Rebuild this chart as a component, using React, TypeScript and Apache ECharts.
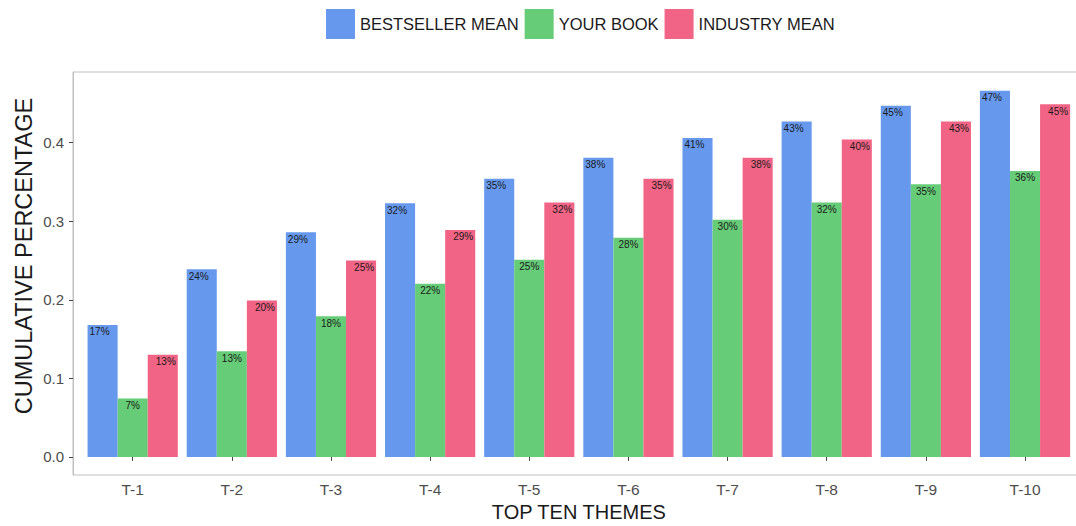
import React, { useEffect, useRef } from "react";
import * as echarts from "echarts";

const categories = ["T-1", "T-2", "T-3", "T-4", "T-5", "T-6", "T-7", "T-8", "T-9", "T-10"];
const bestsellerMean = [0.168, 0.239, 0.286, 0.323, 0.354, 0.381, 0.406, 0.427, 0.447, 0.466];
const yourBook = [0.0745, 0.1346, 0.179, 0.2205, 0.251, 0.279, 0.302, 0.324, 0.347, 0.364];
const industryMean = [0.13, 0.199, 0.25, 0.289, 0.324, 0.354, 0.381, 0.404, 0.427, 0.449];
const yTicks = [0, 0.1, 0.2, 0.3, 0.4];

const FONT = "Liberation Sans, Arial, sans-serif";
const Y_MIN = -0.023;
const Y_MAX = 0.49;

export default function App() {
  const ref = useRef<HTMLDivElement>(null);
  useEffect(() => {
    if (!ref.current) return;
    const chart = echarts.init(ref.current, null, { renderer: "svg" });
    const pct = (p: any) => Math.round(p.value * 100) + "%";
    const lbl = (position: string) => ({
      show: true,
      position,
      distance: 2,
      formatter: pct,
      fontSize: 10,
      color: "#1a1a1a",
      fontFamily: FONT,
    });
    const bar = (name: string, data: number[], color: string, pos: string) => ({
      name,
      type: "bar",
      xAxisIndex: 0,
      yAxisIndex: 0,
      data,
      barGap: "0%",
      barCategoryGap: "9%",
      itemStyle: { color },
      label: lbl(pos),
    });
    chart.setOption({
      animation: false,
      textStyle: { fontFamily: FONT },
      legend: {
        top: 4,
        left: 321,
        icon: "rect",
        itemWidth: 29,
        itemHeight: 30,
        itemGap: 6,
        textStyle: { fontSize: 16.5, color: "#1a1a1a", fontFamily: FONT },
        data: ["BESTSELLER MEAN", "YOUR BOOK", "INDUSTRY MEAN"],
      },
      grid: [
        {
          left: 83.1,
          right: 1.4,
          top: 72,
          bottom: 51,
          outerBoundsMode: "none",
          containLabel: false,
          show: false,
        },
        {
          left: 73,
          right: -8,
          top: 72,
          bottom: 51,
          outerBoundsMode: "none",
          containLabel: false,
          show: true,
          borderColor: "#c0c0c0",
          borderWidth: 1,
        },
      ],
      graphic: [
        {
          type: "text",
          x: 24,
          y: 256,
          rotation: Math.PI / 2,
          style: {
            text: "CUMULATIVE PERCENTAGE",
            font: "23.5px Liberation Sans, Arial, sans-serif",
            fill: "#1a1a1a",
            align: "center",
            verticalAlign: "middle",
          },
        },
      ],
      xAxis: [
        {
          gridIndex: 0,
          type: "category",
          data: categories,
          name: "TOP TEN THEMES",
          nameLocation: "middle",
          nameGap: 27,
          nameTextStyle: { fontSize: 20, color: "#1a1a1a", fontFamily: FONT },
          axisLine: { show: false },
          axisTick: { show: true, alignWithLabel: true, length: 4, lineStyle: { color: "#444" } },
          axisLabel: { fontSize: 15.5, color: "#4d4d4d", margin: 6, fontFamily: FONT },
          splitLine: { show: false },
        },
        {
          gridIndex: 1,
          type: "value",
          min: 0,
          max: 1,
          show: false,
        },
      ],
      yAxis: [
        {
          gridIndex: 0,
          type: "value",
          min: Y_MIN,
          max: Y_MAX,
          show: false,
          splitLine: { show: false },
        },
        {
          gridIndex: 1,
          type: "value",
          min: Y_MIN,
          max: Y_MAX,
          axisLine: { show: true, lineStyle: { color: "#c0c0c0" } },
          axisTick: { show: true, length: 4, customValues: yTicks, lineStyle: { color: "#444" } },
          axisLabel: {
            fontSize: 15,
            color: "#4d4d4d",
            margin: 9,
            customValues: yTicks,
            formatter: (v: number) => v.toFixed(1),
            fontFamily: FONT,
          },
          splitLine: { show: false },
        },
      ],
      series: [
        bar("BESTSELLER MEAN", bestsellerMean, "#6699EE", "insideTopLeft"),
        bar("YOUR BOOK", yourBook, "#66CC77", "insideTop"),
        bar("INDUSTRY MEAN", industryMean, "#F26485", "insideTopRight"),
      ],
    });
    return () => chart.dispose();
  }, []);
  return <div ref={ref} style={{ width: 1076, height: 526, position: "absolute", left: 0, top: 0 }} />;
}
